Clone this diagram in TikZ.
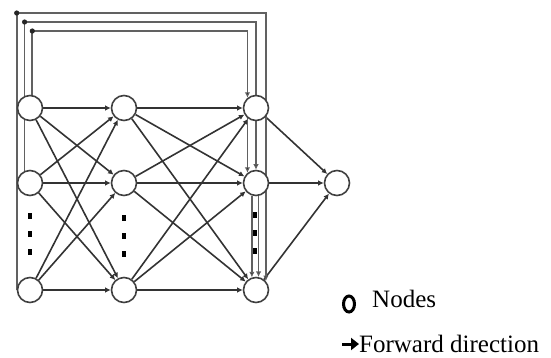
\documentclass[tikz,border=0pt]{standalone}
\usepackage{fontspec}
\setmainfont{Liberation Serif}
\usetikzlibrary{arrows.meta,backgrounds,shapes.geometric}
\begin{document}
\begin{tikzpicture}[x=1pt,y=-1pt,
  nd/.style={circle,draw=black!75,line width=1.6pt,fill=white,minimum size=25pt,inner sep=0pt},
  conn/.style={line width=1.6pt,draw=black!80,-{Latex[length=5.5pt,width=5.5pt]}},
  loopline/.style={line width=1.8pt,draw=black!62,-{Latex[length=5.5pt,width=5.5pt,fill=black]}},
  vdot/.style={fill=black,minimum width=3.4pt,minimum height=5.8pt,inner sep=0pt},
  legring/.style={ellipse,draw=black,line width=3pt,minimum width=11pt,minimum height=16pt,inner sep=0pt},
  lab/.style={anchor=base west,inner sep=0pt,font=\fontsize{25}{30}\selectfont},
  fwd/.style={line width=3pt,draw=black,-{Triangle[length=8pt,width=12pt]}}
]
\useasboundingbox (0,0) rectangle (551,357);
% nodes
\node[nd] (a1) at (30,108) {};
\node[nd] (a2) at (30,183) {};
\node[nd] (a3) at (30,290) {};
\node[nd] (b1) at (124,108) {};
\node[nd] (b2) at (124,183) {};
\node[nd] (b3) at (124,290) {};
\node[nd] (c1) at (256,108) {};
\node[nd] (c2) at (256,183) {};
\node[nd] (c3) at (256,290) {};
\node[nd] (o) at (337,183) {};
% ellipsis dots
\foreach \yy [count=\i] in {216,234,252}{
  \node[vdot] (da\i) at (30,\yy) {};
  \node[vdot] (db\i) at (124,\yy+2) {};
  \node[vdot] (dc\i) at (255,\yy-1) {};
}
% loop corners
\coordinate (p1) at (18,13);
\coordinate (p2) at (25,22);
\coordinate (p3) at (32,31);
\begin{scope}[on background layer]
  \foreach \s in {a1,a2,a3}{
    \foreach \t in {b1,b2,b3}{ \draw[conn] (\s) -- (\t); }
  }
  \foreach \s in {b1,b2,b3}{
    \foreach \t in {c1,c2,c3}{ \draw[conn] (\s) -- (\t); }
  }
  \foreach \s in {c1,c2,c3}{ \draw[conn] (\s) -- (o); }
  % recurrent / skip loops
  \draw[loopline] (a3.west) -- (a3.west |- p1) -- (c3.42 |- p1) -- (c3.42);
  \draw[loopline] (a2.114) -- (a2.114 |- p2) -- (c2.north |- p2) -- (c2.north);
  \draw[loopline] (a1.80) -- (a1.80 |- p3) -- (c1.130 |- p3) -- (c1.130);
  % lateral lines in third column
  \draw[loopline] (c1.230) -- (c2.130);
  \draw[loopline] (c2.252) -- (c3.108);
  \draw[loopline] (c2.281) -- (c3.79);
\end{scope}
\fill[black!85] (a3.west |- p1) circle (2.6);
\fill[black!85] (a2.114 |- p2) circle (2.6);
\fill[black!85] (a1.80 |- p3) circle (2.6);
% legend
\node[legring] (lr) at (349,304) {};
\node[lab] (l1) at (372,307) {Nodes};
\node[lab] (l2) at (359,352) {Forward direction};
\coordinate (fa) at (342,344);
\draw[fwd] (fa) -- (fa -| l2.west);
\end{tikzpicture}
\end{document}
